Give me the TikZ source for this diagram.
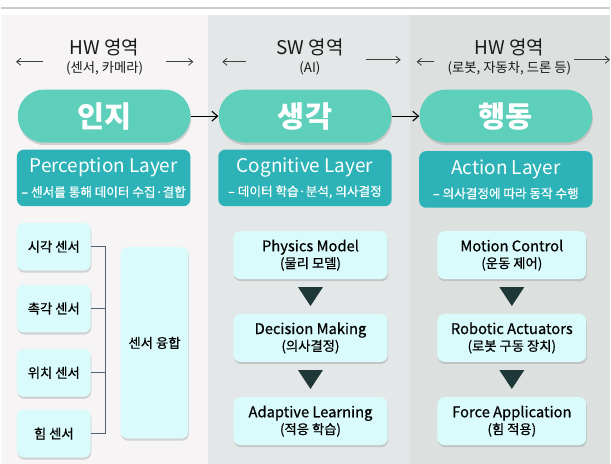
\documentclass[tikz,border=0pt]{standalone}
\usepackage{fontspec}
\setmainfont{Noto Sans CJK KR}
\newfontfamily\medfont[FakeBold=0.6]{Noto Sans CJK KR}
\usetikzlibrary{positioning,arrows.meta,calc,shadows}
\definecolor{pillteal}{HTML}{5ECFBA}
\definecolor{layerteal}{HTML}{2DB3B7}
\definecolor{itemcyan}{HTML}{DAFBFB}
\definecolor{tridark}{HTML}{1E3838}
\definecolor{bracketgray}{HTML}{4D6272}
\definecolor{bgleft}{HTML}{F6F4F4}
\definecolor{bgmid}{HTML}{E3E7E7}
\definecolor{bgright}{HTML}{DCE1DF}

\begin{document}
\begin{tikzpicture}[
  x=0.025cm, y=-0.025cm,
  pill/.style={
    fill=pillteal, text=white, font=\fontsize{21}{23}\selectfont\bfseries,
    minimum width=4.33cm, minimum height=1.33cm, rounded corners=0.66cm,
    drop shadow={opacity=0.3, shadow xshift=0.5pt, shadow yshift=-1.8pt}
  },
  layer/.style={
    fill=layerteal, text=white, rounded corners=5pt, align=center,
    minimum width=4.35cm, minimum height=1.42cm, inner sep=2pt,
    font=\fontsize{13.5}{15}\selectfont
  },
  item/.style={
    fill=itemcyan, rounded corners=5pt, align=center, text=black,
    minimum width=3.87cm, minimum height=1.2cm, inner sep=1pt,
    font=\medfont\fontsize{10.5}{12}\selectfont,
    drop shadow={opacity=0.3, shadow xshift=0.4pt, shadow yshift=-1.5pt}
  },
  sensor/.style={item, minimum width=1.85cm, font=\medfont\fontsize{9.5}{11}\selectfont},
  header/.style={align=center, text=black!90, font=\fontsize{13.5}{15}\selectfont},
  hdrarrow/.style={-{Straight Barb[length=3pt,width=5pt]}, semithick, black!75},
  flow/.style={-{Straight Barb[length=4pt,width=7pt]}, thick},
  tri/.style={fill=tridark},
  bracket/.style={draw=bracketgray, line width=0.9pt}
]
% page and column backgrounds
\fill[white] (0,0) rectangle (611,465);
\draw[black!20, line width=1.4pt] (0,8) -- (611,8);
\fill[bgleft]  (0,15)   rectangle (208,465);
\fill[bgmid]   (208,15) rectangle (410,465);
\fill[bgright] (410,15) rectangle (611,465);

% headers
\node[header] (hd1) at (104,57) {HW 영역\\[-2pt]{\fontsize{9.5}{11}\selectfont (센서, 카메라)}};
\node[header] (hd2) at (310,57) {SW 영역\\[-2pt]{\fontsize{9.5}{11}\selectfont (AI)}};
\node[header] (hd3) at (510,57) {HW 영역\\[-2pt]{\fontsize{9.5}{11}\selectfont (로봇, 자동차, 드론 등)}};
\foreach \a/\b/\y in {42/15/62, 166/193/62, 246/222/62, 366/401/60, 434/417/62, 575/611/60}
  \draw[hdrarrow] (\a,\y) -- (\b,\y);

% stages
\node[pill] (p1) at (103.5,116.5) {인지};
\node[pill] (p2) at (305,116.5) {생각};
\node[pill] (p3) at (506.5,116.5) {행동};
\draw[flow] (p1.east) -- (p2.west);
\draw[flow] (p2.east) -- (p3.west);

\node[layer] (l1) at (103,178.5) {Perception Layer\\[2pt]{\medfont\fontsize{9}{10}\selectfont – 센서를 통해 데이터 수집·결합}};
\node[layer] (l2) at (305,178.5) {Cognitive Layer\\[2pt]{\medfont\fontsize{9}{10}\selectfont – 데이터 학습·분석, 의사결정}};
\node[layer] (l3) at (506.5,180) {Action Layer\\[2pt]{\medfont\fontsize{9}{10}\selectfont – 의사결정에 따라 동작 수행}};

% sensors
\node[sensor] (s1) at (53,247.5) {시각 센서};
\node[sensor] (s2) at (53,309.5) {촉각 센서};
\node[sensor] (s3) at (53,374) {위치 센서};
\node[sensor] (s4) at (53,435) {힘 센서};
\node[sensor, minimum width=1.7cm, minimum height=4.8cm] (fuse) at (154,344) {센서 융합};
\coordinate (brk) at (105,0);
\foreach \s in {s1,s2,s3,s4}
  \draw[bracket] (\s.east) -- (\s.east -| brk);
\draw[bracket] (s1.east -| brk) -- (s4.east -| brk);

% cognitive chain
\node[item] (c1) at (310.5,256) {Physics Model\\{\fontsize{9.5}{11}\selectfont (물리 모델)}};
\node[item] (c2) at (310.5,339) {Decision Making\\{\fontsize{9.5}{11}\selectfont (의사결정)}};
\node[item] (c3) at (310.5,422.5) {Adaptive Learning\\{\fontsize{9.5}{11}\selectfont (적응 학습)}};

% action chain
\node[item, minimum width=3.73cm] (a1) at (512.5,256) {Motion Control\\{\fontsize{9.5}{11}\selectfont (운동 제어)}};
\node[item, minimum width=3.73cm] (a2) at (512.5,339) {Robotic Actuators\\{\fontsize{9.5}{11}\selectfont (로봇 구동 장치)}};
\node[item, minimum width=3.73cm] (a3) at (512.5,422.5) {Force Application\\{\fontsize{9.5}{11}\selectfont (힘 적용)}};

% down triangles between steps
\foreach \u/\v in {c1/c2, c2/c3, a1/a2, a2/a3} {
  \coordinate (m) at ($(\u.south)!0.5!(\v.north)$);
  \fill[tri] ($(m)+(-12.5,-9.5)$) -- ($(m)+(12.5,-9.5)$) -- ($(m)+(0,9.5)$) -- cycle;
}
\end{tikzpicture}
\end{document}
